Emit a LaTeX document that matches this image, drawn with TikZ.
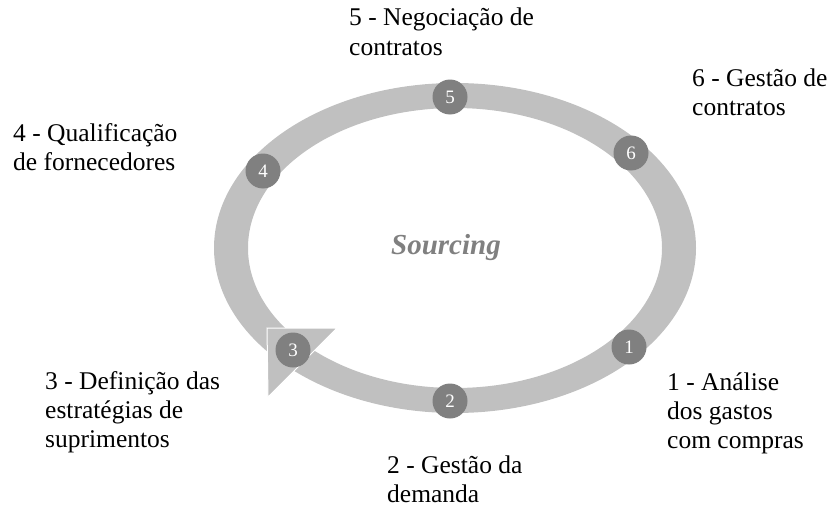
\documentclass[tikz,border=0pt]{standalone}
\usepackage{fontspec}
\setmainfont{Liberation Serif}
\definecolor{ringgray}{HTML}{C0C0C0}
\definecolor{dotgray}{HTML}{808080}

\begin{document}
\begin{tikzpicture}[
    x=1pt, y=-1pt,
    num/.style={circle, fill=dotgray, minimum size=35pt, inner sep=0pt, text=white, font=\fontsize{19}{19}\selectfont},
    lbl/.style={anchor=base west, align=left, inner sep=0pt, font=\fontsize{25.5}{29}\selectfont},
]
\useasboundingbox (0,0) rectangle (831,506);

% anel
\fill[ringgray, even odd rule] (455,248) ellipse [x radius=241, y radius=165]
                                (455,248) ellipse [x radius=207, y radius=140];
% ponta da seta
\filldraw[fill=ringgray, draw=white, line width=1pt] (267,328) -- (337,328) -- (268,397) -- cycle;

\node[num] (ANALISE) at (629,347) {1};
\node[num] (DEMANDA) at (450,401) {2};
\node[num] (ESTRATEGIA) at (293,350) {3};
\node[num] (QUALIF) at (263,171) {4};
\node[num] (NEGOC) at (450,97) {5};
\node[num] (GESTAO) at (631,153) {6};

\node[font=\fontsize{29}{29}\selectfont\bfseries\itshape, text=dotgray, anchor=base] (SOURCING) at (446,254) {Sourcing};

% rótulos (base = última linha)
\node[lbl] (ANALISEtxt) at (667,448) {1 - Análise\\dos gastos\\com compras};
\node[lbl] (DEMANDAtxt) at (387,502) {2 - Gestão da\\demanda};
\node[lbl] (ESTRATEGIAtxt) at (45,447) {3 - Definição das\\estratégias de\\suprimentos};
\node[lbl] (QUALIFtxt) at (13,170) {4 - Qualificação\\de fornecedores};
\node[lbl] (NEGOCtxt) at (349,55) {5 - Negociação de\\contratos};
\node[lbl] (GESTAOtxt) at (692,115) {6 - Gestão de\\contratos};
\end{tikzpicture}
\end{document}
